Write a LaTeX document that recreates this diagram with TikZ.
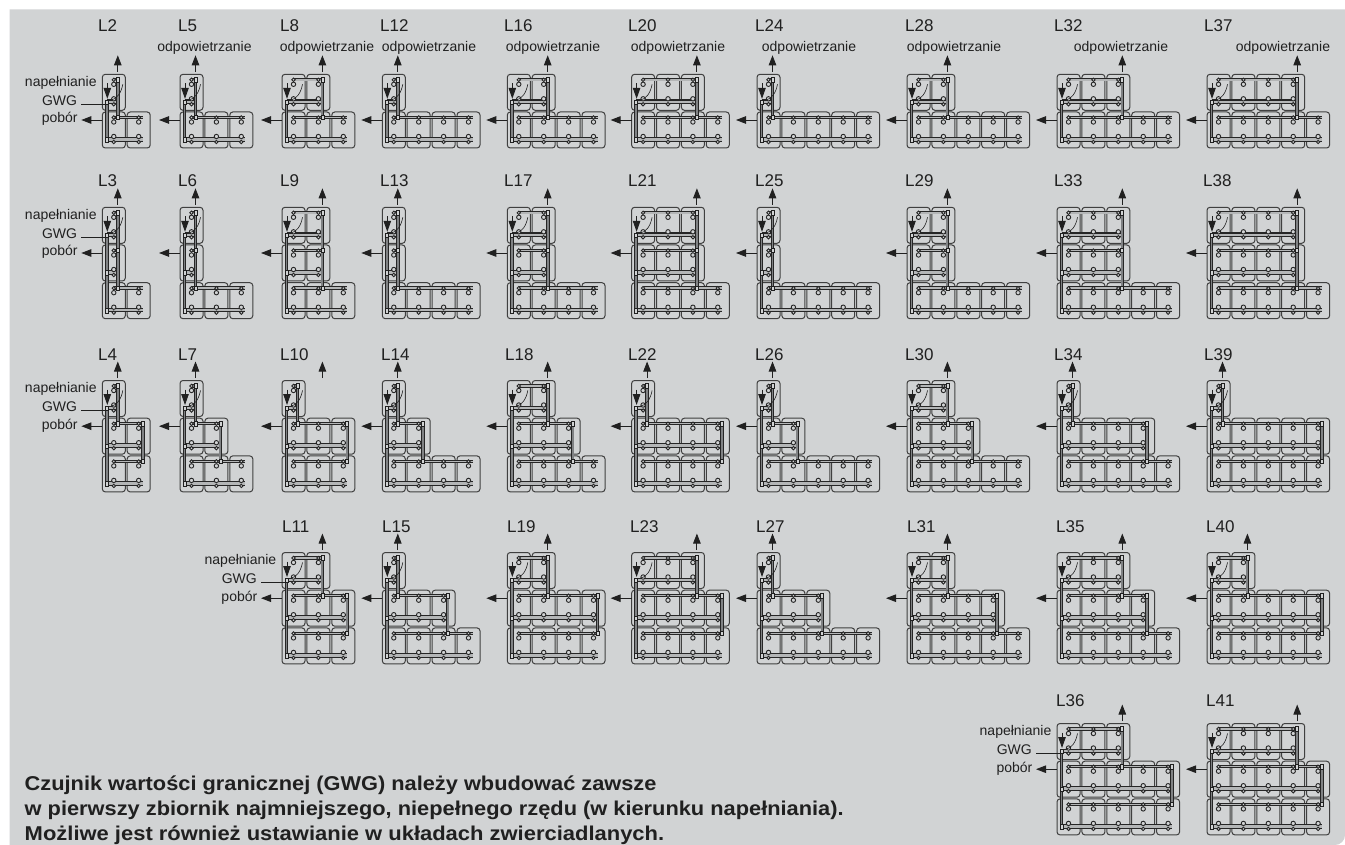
\documentclass[tikz,border=0pt]{standalone}
\usepackage{fontspec}
\setmainfont{Liberation Sans}
\usetikzlibrary{arrows.meta}
\definecolor{bgrey}{HTML}{D1D3D4}
\definecolor{ink}{HTML}{202020}
\definecolor{tubeink}{HTML}{262626}
\definecolor{tubefill}{HTML}{B4B6B7}
\definecolor{riserfill}{HTML}{808284}
\tikzset{
  tank/.style={draw=tubeink!85!bgrey,line width=1pt,rounded corners=3pt,minimum width=23pt,minimum height=36pt,inner sep=0pt,outer sep=0pt},
  lab/.style={inner sep=0pt,text=ink,font=\fontsize{17}{19}\selectfont},
  small/.style={inner sep=0pt,text=ink,font=\fontsize{14}{16}\selectfont},
  fill label/.style={inner sep=0pt,text=ink,font=\fontsize{14}{16}\selectfont},
  flow/.style={draw=ink,line width=0.9pt,-{Triangle[length=10pt,width=7.5pt]}},
  fillflow/.style={draw=ink,line width=0.9pt,-{Triangle[length=11pt,width=7.5pt]}},
  wire/.style={draw=ink,line width=0.6pt},
  tubeA/.style={draw=tubeink,line width=3.4pt},
  tubeB/.style={draw=tubefill,line width=1.5pt},
  manA/.style={draw=tubeink,line width=4.6pt},
  manB/.style={draw=tubefill,line width=2.5pt},
  riseA/.style={draw=tubeink,line width=3.6pt},
  riseB/.style={draw=riserfill,line width=1.9pt},
  fit/.style={draw=tubeink,line width=0.9pt,fill=bgrey},
  joint/.style={draw=ink,line width=0.7pt,fill=bgrey,inner sep=0pt,minimum width=3pt,minimum height=4.6pt},
  note/.style={anchor=base west,inner sep=0pt,text=ink,font=\fontsize{20}{22}\selectfont\bfseries,transform shape},
}
\newcommand\tanks[5][0]{%
  % #2 name, #3 x, #4 y, #5 tanks per row, optional: column of the vent arrow
  \foreach \n [count=\r, remember=\n as \p (initially 0)] in {#5} {
    \pgfmathsetmacro\ry{#4+(\r-1)*37.7}
    \foreach \i in {1,...,\n} {
      \node[tank] (#2r\r c\i) at ({#3+(\i-1)*24.9+11.5},{\ry+18}) {};
    }
    \pgfmathsetmacro\xe{#3+(\n-1)*24.9+15.5}
    \draw[tubeA] (#3+11.5,\ry+5.5) -- (\xe,\ry+5.5);
    \draw[tubeB] (#3+11.5,\ry+5.5) -- (\xe,\ry+5.5);
    \draw[manA] (#3+4.5,\ry+27.5) -- (\xe,\ry+27.5);
    \draw[manB] (#3+4.5,\ry+27.5) -- (\xe,\ry+27.5);
    \foreach \i in {1,...,\n} {
      \pgfmathsetmacro\cx{#3+(\i-1)*24.9+11.5}
      \draw[fit] (\cx,\ry+10) circle (2.2pt);
      \draw[fit] (\cx,\ry+5.5) circle (1.7pt);
      \draw[fit] (\cx,\ry+24.5) circle (2.2pt);
      \draw[fit] (\cx,\ry+30) circle (1.7pt);
    }
    \node[joint] (#2L\r) at (#3+4.5,\ry+28) {};
    \ifnum\r>1
      \pgfmathtruncatemacro\cc{min(\p,\n)}
      \pgfmathsetmacro\vx{#3+(\cc-1)*24.9+15.5}
      \coordinate (#2va\r) at (\vx,\ry-37.7+5.5);
      \coordinate (#2vb\r) at (\vx,\ry+5.5);
      \draw[riseA] (#2va\r) -- (#2vb\r);
      \draw[riseB] (#2va\r) -- (#2vb\r);
      \node[joint] at (#2va\r) {};
      \node[joint] at (#2vb\r) {};
    \fi
    \ifnum\r=1
      \pgfmathsetmacro\ac{#1>0?#1:\n}
      \pgfmathsetmacro\ax{#3+(\ac-1)*24.9+15.5}
      \coordinate (#2up0) at (\ax,#4-2.5);
      \coordinate (#2up) at (\ax,#4-19);
      \draw[flow] (#2up0) -- (#2up);
    \fi
    \global\let\lastr\r
  }
  \draw[riseA] (#2L1) -- (#2L\lastr);
  \draw[riseB] (#2L1) -- (#2L\lastr);
  \foreach \r in {1,...,\lastr} { \node[joint] at (#2L\r) {}; }
  \coordinate (#2in0) at (#3+5,#4+9);
  \coordinate (#2in) at (#3+5,#4+24.5);
  \draw[fillflow] (#2in0) -- (#2in);
  \draw[wire] (#3+8,#4+26) .. controls (#3+15,#4+25) and (#3+19,#4+18) .. (#3+20.5,#4+10);
  \coordinate (#2out0) at (#3,#4+37.7+8);
  \coordinate (#2out) at (#3-21,#4+37.7+8);
  \draw[flow] (#2out0) -- (#2out);
}
\newcommand\captions[3]{%
  \node[fill label,anchor=base east] (#1nap) at (#2-5.5,#3+12) {napełnianie};
  \node[small,anchor=base east] (#1gwg) at (#2-25,#3+31) {GWG};
  \coordinate (#1gwgs) at (#2-21,#3+29.8);
  \coordinate (#1gwge) at (#2+3,#3+29.8);
  \draw[wire] (#1gwgs) -- (#1gwge);
  \node[small,anchor=base east] (#1pob) at (#2-24.5,#3+37.7+11) {pobór};
}
\newcommand\vent[1]{\node[small,anchor=base] at (#1,51.5) {odpowietrzanie};}
\begin{document}
\begin{tikzpicture}[x=1pt,y=-1pt]
\useasboundingbox (0,0) rectangle (1345,845);
\fill[bgrey] (9.5,9.5) -- (1345,9.5) [rounded corners=10pt] -- (1345,845) [sharp corners] -- (9.5,845) -- cycle;
\foreach \t/\lx/\ly in {
 L2/98/32,L5/178/32,L8/280/32,L12/380/32,L16/504/32,L20/628/32,L24/755/32,L28/905/32,L32/1054/32,L37/1204/32,
 L3/98/187,L6/178/187,L9/280/187,L13/380/187,L17/504/187,L21/628/187,L25/755/187,L29/905/187,L33/1054/187,L38/1203/187,
 L4/98/360,L7/178/360,L10/280/360,L14/381/360,L18/505/360,L22/628/360,L26/755/360,L30/905/360,L34/1054/360,L39/1204/360,
 L11/282/532,L15/382/532,L19/507/532,L23/630/532,L27/756/532,L31/907/532,L35/1056/532,L40/1206/532,
 L36/1056/706,L41/1206/706}
 {\node[lab,anchor=base west] (\t lab) at (\lx,\ly) {\t};}
\tanks{L2}{102.3}{74.3}{1,2}
\tanks{L5}{180}{74.3}{1,3}
\tanks{L8}{282}{74.3}{2,3}
\tanks{L12}{382.3}{74.3}{1,4}
\tanks{L16}{507.3}{74.3}{2,4}
\tanks{L20}{631.6}{74.3}{3,4}
\tanks{L24}{757}{74.3}{1,5}
\tanks{L28}{907}{74.3}{2,5}
\tanks{L32}{1057}{74.3}{3,5}
\tanks{L37}{1207}{74.3}{4,5}
\tanks{L3}{102.3}{207.3}{1,1,2}
\tanks{L6}{180}{207.3}{1,1,3}
\tanks{L9}{282}{207.3}{2,2,3}
\tanks{L13}{382.3}{207.3}{1,1,4}
\tanks{L17}{507.3}{207.3}{2,2,4}
\tanks{L21}{631.6}{207.3}{3,3,4}
\tanks{L25}{757}{207.3}{1,1,5}
\tanks{L29}{907}{207.3}{2,2,5}
\tanks{L33}{1057}{207.3}{3,3,5}
\tanks{L38}{1207}{207.3}{4,4,5}
\tanks{L4}{102.3}{380.5}{1,2,2}
\tanks{L7}{180}{380.5}{1,2,3}
\tanks[2]{L10}{282}{380.5}{1,3,3}
\tanks{L14}{382.3}{380.5}{1,2,4}
\tanks{L18}{507.3}{380.5}{2,3,4}
\tanks{L22}{631.6}{380.5}{1,4,4}
\tanks{L26}{757}{380.5}{1,2,5}
\tanks{L30}{907}{380.5}{2,3,5}
\tanks{L34}{1057}{380.5}{1,4,5}
\tanks{L39}{1207}{380.5}{1,5,5}
\tanks{L11}{282}{552.5}{2,3,3}
\tanks{L15}{382.3}{552.5}{1,3,4}
\tanks{L19}{507.3}{552.5}{2,4,4}
\tanks{L23}{631.6}{552.5}{3,4,4}
\tanks{L27}{757}{552.5}{1,3,5}
\tanks{L31}{907}{552.5}{2,4,5}
\tanks{L35}{1057}{552.5}{3,4,5}
\tanks{L40}{1207}{552.5}{2,5,5}
\tanks{L36}{1057}{723.5}{3,5,5}
\tanks{L41}{1207}{723.5}{4,5,5}
\captions{L2}{102.3}{74.3}
\captions{L3}{102.3}{207.3}
\captions{L4}{102.3}{380.5}
\captions{L11}{282}{552.5}
\captions{L36}{1057}{723.5}
\vent{204.5}\vent{327}\vent{429}\vent{553}\vent{678}\vent{809}\vent{954}\vent{1121}\vent{1283}
\node[note,xscale=1.089] (note1) at (24.5,790) {Czujnik wartości granicznej (GWG) należy wbudować zawsze};
\node[note,xscale=1.09] (note2) at (24.5,815) {w pierwszy zbiornik najmniejszego, niepełnego rzędu (w kierunku napełniania).};
\node[note,xscale=1.098] (note3) at (24.5,840) {Możliwe jest również ustawianie w układach zwierciadlanych.};
\end{tikzpicture}
\end{document}
